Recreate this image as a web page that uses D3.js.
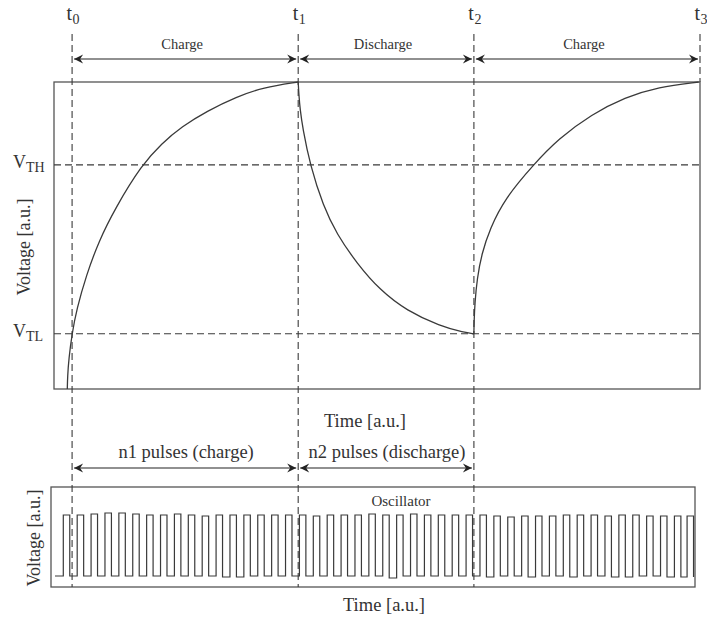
<!DOCTYPE html>
<html>
<head>
<meta charset="utf-8">
<script src="https://cdnjs.cloudflare.com/ajax/libs/d3/7.8.5/d3.min.js"></script>
<style>
  body { margin: 0; background: #fff; }
  text { font-family: "Liberation Serif", "Times New Roman", serif; fill: #333; }
</style>
</head>
<body>
<svg id="chart" width="707" height="618"></svg>
<script>
// ---- data (time and voltage in arbitrary units) ----
var tMarks = [2.8, 37.8, 65.0, 100];
var tNames = ["0", "1", "2", "3"];
var phaseNames = ["Charge", "Discharge", "Charge"];
var pulseNames = ["n1 pulses (charge)", "n2 pulses (discharge)"];
var thresholds = [0.73, 0.18];          // VTH, VTL
var thresholdNames = ["TH", "TL"];

var charge1 = [[2.06,0.0],[2.1,0.04],[2.3,0.10],[2.79,0.18],[3.51,0.26],[5.0,0.37],[6.9,0.48],[9.5,0.59],
  [13.58,0.73],[16.67,0.80],[19.8,0.855],[23.64,0.905],[28.28,0.952],[32.35,0.982],[37.8,1.0]];
var discharge = [[37.8,1.0],[37.9,0.96],[38.1,0.91],[38.5,0.85],[39.63,0.73],[41.69,0.595],[43.76,0.505],
  [46.86,0.41],[50.46,0.322],[54.60,0.255],[59.75,0.205],[63.5,0.184],[65.0,0.18]];
var charge2 = [[65.0,0.18],[65.03,0.22],[65.15,0.28],[65.5,0.36],[66.2,0.44],[67.49,0.523],[69.81,0.621],
  [74.19,0.73],[78.07,0.815],[83.24,0.895],[88.39,0.95],[93.54,0.984],[99.8,1.0]];

// oscillator: rising edge times, pulse high level, low level before each pulse (+ final)
var pulseRise = [1.44,3.59,5.74,7.89,10.04,12.19,14.34,16.49,18.64,20.79,22.94,25.09,27.24,29.39,
  31.54,33.69,35.84,37.99,40.14,42.29,44.44,46.59,48.74,50.89,53.04,55.19,57.34,59.49,61.64,63.79,
  65.94,68.09,70.24,72.39,74.54,76.69,78.84,80.99,83.14,85.29,87.44,89.59,91.74,93.89,96.04,98.0];
var pulseHigh = [0.72,0.72,0.73,0.74,0.74,0.73,0.72,0.72,0.73,0.72,0.71,0.72,0.72,0.72,
  0.72,0.72,0.72,0.72,0.71,0.72,0.72,0.72,0.73,0.72,0.72,0.73,0.72,0.72,0.72,0.72,
  0.72,0.71,0.70,0.71,0.71,0.71,0.72,0.72,0.72,0.71,0.72,0.72,0.71,0.71,0.71,0.71];
var pulseLow = [0.11,0.11,0.11,0.11,0.11,0.11,0.11,0.11,0.11,0.11,0.11,0.11,0.10,0.10,0.11,
  0.11,0.11,0.11,0.11,0.11,0.11,0.11,0.11,0.11,0.09,0.11,0.11,0.11,0.11,0.11,0.11,
  0.10,0.11,0.11,0.10,0.11,0.11,0.10,0.11,0.11,0.10,0.10,0.11,0.11,0.10,0.10,0.10];
var pulseWidth = 1.0;
var oscStart = 0.15;

// ---- layout ----
var svg = d3.select("#chart");
var x = d3.scaleLinear().domain([0, 100]).range([54, 700]);
var y = d3.scaleLinear().domain([0, 1]).range([389, 82]);
var yo = d3.scaleLinear().domain([0, 1]).range([587, 487]);
var ink = "#3a3a3a", boxInk = "#555";

var defs = svg.append("defs");
defs.append("marker")
    .attr("id", "arr")
    .attr("markerUnits", "userSpaceOnUse")
    .attr("viewBox", "-10 -5 11 10")
    .attr("refX", 0).attr("refY", 0)
    .attr("markerWidth", 11).attr("markerHeight", 10)
    .attr("orient", "auto-start-reverse")
    .append("path")
    .attr("d", "M-9,-4.5 L0,0 L-9,4.5 L-6,0 Z")
    .attr("fill", "#222");

// top box
svg.append("rect")
    .attr("x", x(0)).attr("y", y(1))
    .attr("width", x(100) - x(0)).attr("height", y(0) - y(1))
    .attr("fill", "none").attr("stroke", boxInk).attr("stroke-width", 1.3);

// oscillator box
svg.append("rect")
    .attr("x", 51).attr("y", yo(1))
    .attr("width", 644).attr("height", yo(0) - yo(1))
    .attr("fill", "none").attr("stroke", boxInk).attr("stroke-width", 1.3);

// threshold dashed lines
svg.selectAll(".thr").data(thresholds).enter().append("line")
    .attr("class", "thr")
    .attr("x1", x(0)).attr("x2", x(100))
    .attr("y1", function(d){ return y(d); }).attr("y2", function(d){ return y(d); })
    .attr("stroke", ink).attr("stroke-width", 1.1).attr("stroke-dasharray", "7,4");

// vertical time markers
svg.selectAll(".tm").data(tMarks).enter().append("line")
    .attr("class", "tm")
    .attr("x1", function(d){ return x(d); }).attr("x2", function(d){ return x(d); })
    .attr("y1", 34)
    .attr("y2", function(d, i){ return i == 3 ? y(1) : yo(0); })
    .attr("stroke", ink).attr("stroke-width", 1.1).attr("stroke-dasharray", "7,4");

// t labels
tMarks.forEach(function(d, i){
    svg.append("text").attr("x", x(d)).attr("y", 20)
        .attr("text-anchor", "end").style("font-size", "20px").text("t");
    svg.append("text").attr("x", x(d) + 0.5).attr("y", 24)
        .style("font-size", "14px").text(tNames[i]);
});

// phase arrows
var arrowY = 59;
phaseNames.forEach(function(name, i){
    svg.append("line")
        .attr("x1", x(tMarks[i]) + 2).attr("x2", x(tMarks[i+1]) - 2)
        .attr("y1", arrowY).attr("y2", arrowY)
        .attr("stroke", "#222").attr("stroke-width", 1.2)
        .attr("marker-start", "url(#arr)").attr("marker-end", "url(#arr)");
    svg.append("text")
        .attr("x", (x(tMarks[i]) + x(tMarks[i+1])) / 2 - 3).attr("y", 49)
        .attr("text-anchor", "middle").style("font-size", "14.5px").text(name);
});

// pulse count arrows
var pArrowY = 468;
pulseNames.forEach(function(name, i){
    svg.append("line")
        .attr("x1", x(tMarks[i]) + 2).attr("x2", x(tMarks[i+1]) - 2)
        .attr("y1", pArrowY).attr("y2", pArrowY)
        .attr("stroke", "#222").attr("stroke-width", 1.2)
        .attr("marker-start", "url(#arr)").attr("marker-end", "url(#arr)");
    svg.append("text")
        .attr("x", (x(tMarks[i]) + x(tMarks[i+1])) / 2 + 1).attr("y", 458)
        .attr("text-anchor", "middle").style("font-size", "18.5px").text(name);
});

// voltage curves
var line = d3.line()
    .x(function(d){ return x(d[0]); })
    .y(function(d){ return y(d[1]); })
    .curve(d3.curveBasis);
[charge1, discharge, charge2].forEach(function(seg){
    svg.append("path").datum(seg)
        .attr("d", line)
        .attr("fill", "none").attr("stroke", ink).attr("stroke-width", 1.3);
});

// oscillator square wave
var pts = [[oscStart, pulseLow[0]]];
pulseRise.forEach(function(r, i){
    pts.push([r, pulseLow[i]]);
    pts.push([r, pulseHigh[i]]);
    pts.push([r + pulseWidth, pulseHigh[i]]);
    pts.push([r + pulseWidth, pulseLow[i+1]]);
    if (i < pulseRise.length - 1) pts.push([pulseRise[i+1], pulseLow[i+1]]);
});
svg.append("path").datum(pts)
    .attr("d", d3.line().x(function(d){ return x(d[0]); }).y(function(d){ return yo(d[1]); }))
    .attr("fill", "none").attr("stroke", ink).attr("stroke-width", 1.2);

// threshold labels
thresholds.forEach(function(v, i){
    var g = svg.append("text").attr("x", 13).attr("y", y(v) + 3).style("font-size", "18px");
    g.append("tspan").text("V");
    g.append("tspan").attr("dy", 4).style("font-size", "14px").text(thresholdNames[i]);
});

// axis titles
svg.append("text").attr("x", 365).attr("y", 427)
    .attr("text-anchor", "middle").style("font-size", "18.5px").text("Time [a.u.]");
svg.append("text").attr("x", 384).attr("y", 611)
    .attr("text-anchor", "middle").style("font-size", "18.5px").text("Time [a.u.]");
svg.append("text").attr("x", 401).attr("y", 506)
    .attr("text-anchor", "middle").style("font-size", "15px").text("Oscillator");
svg.append("text")
    .attr("transform", "translate(30,247) rotate(-90)")
    .attr("text-anchor", "middle").style("font-size", "18px").text("Voltage [a.u.]");
svg.append("text")
    .attr("transform", "translate(40,538) rotate(-90)")
    .attr("text-anchor", "middle").style("font-size", "18px").text("Voltage [a.u.]");
</script>
</body>
</html>
